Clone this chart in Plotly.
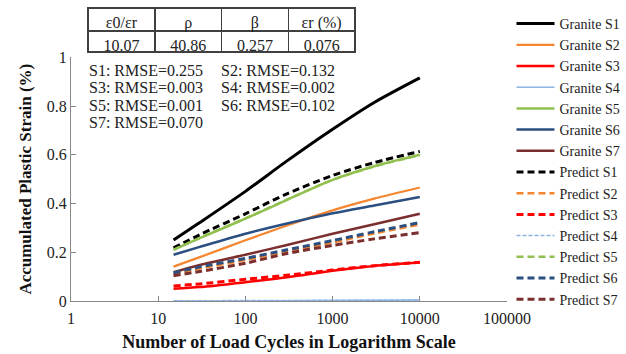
import plotly.graph_objects as go

# ---- data ----
cycles = [15, 30, 100, 300, 1000, 3000, 10000]

granite_s1 = [0.250, 0.322, 0.450, 0.575, 0.705, 0.815, 0.916]
granite_s2 = [0.141, 0.180, 0.249, 0.310, 0.372, 0.420, 0.466]
granite_s3 = [0.050, 0.057, 0.077, 0.097, 0.124, 0.144, 0.158]
granite_s4 = [0.000, 0.000, 0.000, 0.001, 0.002, 0.003, 0.004]
granite_s5 = [0.210, 0.258, 0.338, 0.415, 0.497, 0.553, 0.600]
granite_s6 = [0.190, 0.222, 0.276, 0.318, 0.360, 0.392, 0.427]
granite_s7 = [0.118, 0.148, 0.190, 0.230, 0.276, 0.315, 0.358]

predict_s1 = [0.218, 0.272, 0.358, 0.440, 0.515, 0.568, 0.614]
predict_s2 = [0.108, 0.133, 0.168, 0.203, 0.240, 0.277, 0.314]
predict_s3 = [0.062, 0.070, 0.089, 0.106, 0.127, 0.145, 0.159]
predict_s4 = [0.001, 0.001, 0.002, 0.002, 0.003, 0.003, 0.004]
predict_s5 = [0.211, 0.259, 0.339, 0.416, 0.497, 0.552, 0.599]
predict_s6 = [0.115, 0.140, 0.175, 0.210, 0.248, 0.284, 0.322]
predict_s7 = [0.104, 0.121, 0.155, 0.195, 0.228, 0.255, 0.281]

param_names = ["ε0/εr", "ρ", "β", "εr (%)"]
param_values = ["10.07", "40.86", "0.257", "0.076"]

rmse_labels = ["S1", "S2", "S3", "S4", "S5", "S6", "S7"]
rmse_values = ["0.255", "0.132", "0.003", "0.002", "0.001", "0.102", "0.070"]

x_tick_vals = [1, 10, 100, 1000, 10000, 100000]
x_tick_text = ["1", "10", "100", "1000", "10000", "100000"]

# ---- styles ----
colors = ["#000000", "#F4862F", "#FF0000", "#8DB4E2", "#92C050", "#2B4F80", "#7A2E2E"]
granite = [granite_s1, granite_s2, granite_s3, granite_s4, granite_s5, granite_s6, granite_s7]
predict = [predict_s1, predict_s2, predict_s3, predict_s4, predict_s5, predict_s6, predict_s7]
solid_w = [3, 2.2, 2.5, 1.6, 2.5, 2.5, 2.5]
dash_w = [3, 2.5, 3, 1.5, 2.5, 3, 3]

SERIF = "'Liberation Serif'"
PLOT_H = 301  # pixel height of paper area (figure height minus bottom margin)

fig = go.Figure()
for i in range(7):
    fig.add_trace(go.Scatter(
        x=cycles, y=granite[i], mode="lines", name=f"Granite S{i+1}",
        line=dict(color=colors[i], width=solid_w[i], shape="spline", smoothing=0.8),
    ))
for i in range(7):
    dash = "4px,2px" if i == 3 else "7px,4px"
    fig.add_trace(go.Scatter(
        x=cycles, y=predict[i], mode="lines", name=f"Predict S{i+1}",
        line=dict(color=colors[i], width=dash_w[i], dash=dash, shape="spline", smoothing=0.8),
    ))

fig.add_trace(go.Table(
    domain=dict(x=[0.039, 0.653], y=[0.80, 1.0]),
    columnwidth=[1, 1, 1, 1],
    header=dict(values=param_names, height=23, align="center",
                line=dict(color="#404040", width=1.5), fill=dict(color="white"),
                font=dict(family=SERIF, size=16, color="#222")),
    cells=dict(values=[[v] for v in param_values], height=21, align="center",
               line=dict(color="#404040", width=1.5), fill=dict(color="white"),
               font=dict(family=SERIF, size=16, color="#222")),
))

# RMSE block: two columns, rows 18 px apart
row_centers = [64, 82, 100, 118]
for k in range(len(rmse_labels)):
    col, row = k % 2, k // 2
    fig.add_annotation(
        x=0.037 if col == 0 else 0.339, y=(PLOT_H - row_centers[row]) / PLOT_H,
        xref="paper", yref="paper", xanchor="left", yanchor="middle",
        showarrow=False, text=f"{rmse_labels[k]}: RMSE={rmse_values[k]}",
        font=dict(family=SERIF, size=16, color="#222"))

fig.update_layout(
    width=626, height=354,
    margin=dict(l=71, r=118.5, t=0, b=53),
    paper_bgcolor="white", plot_bgcolor="white",
    showlegend=True,
    legend=dict(x=1.0103, y=1.0, xanchor="left", yanchor="top", maxheight=360,
                itemwidth=38,
                font=dict(family=SERIF, size=14, color="#222"),
                bgcolor="rgba(0,0,0,0)", borderwidth=0),
    xaxis=dict(type="log", range=[0, 5], tickvals=x_tick_vals, ticktext=x_tick_text,
               showgrid=False, zeroline=False, showline=True, linecolor="#888", linewidth=1,
               ticks="inside", ticklen=5, tickcolor="#888", ticklabelstandoff=3,
               tickfont=dict(family=SERIF, size=16, color="#222"),
               title=dict(text="<b>Number of Load Cycles in Logarithm Scale</b>",
                          font=dict(family=SERIF, size=18, color="#111"), standoff=9)),
    yaxis=dict(range=[0, 1], dtick=0.2, domain=[0, 250.3 / PLOT_H],
               showgrid=False, zeroline=False, showline=True, linecolor="#888", linewidth=1,
               ticks="inside", ticklen=5, tickcolor="#888",
               tickfont=dict(family=SERIF, size=16, color="#222"),
               title=dict(text="<b>Accumulated Plastic Strain (%)</b>",
                          font=dict(family=SERIF, size=17, color="#111"), standoff=10)),
)

fig.write_html("out.html")
